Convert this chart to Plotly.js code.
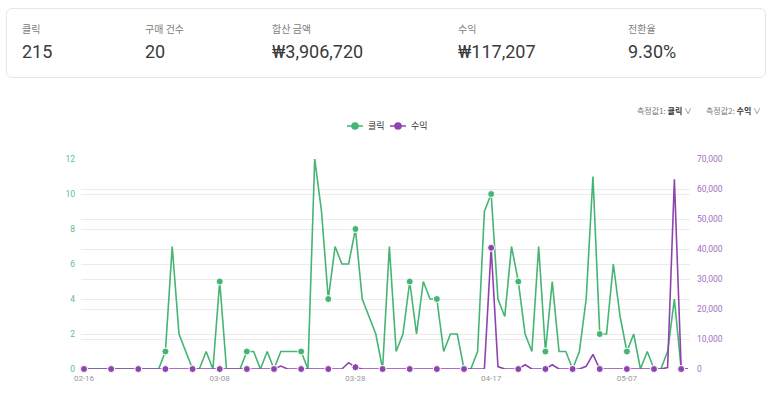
<!DOCTYPE html>
<html>
<head>
<meta charset="utf-8">
<script src="https://cdn.plot.ly/plotly-3.0.1.min.js"></script>
<style>
  html, body { margin: 0; padding: 0; background: #fff; }
  body { width: 773px; height: 399px; position: relative; overflow: hidden;
         font-family: Roboto, "Noto Sans CJK KR", sans-serif; }
  #card { position: absolute; left: 6px; top: 8px; width: 760px; height: 70px;
          border: 1px solid #e6e6e6; border-radius: 6px; box-sizing: border-box; }
  .kpi { position: absolute; top: 0; }
  .kpi .lab { position: absolute; top: 12px; white-space: nowrap; font-size: 10px; color: #808080;
              font-family: "Noto Sans CJK KR", sans-serif; }
  .kpi .val { position: absolute; top: 32px; white-space: nowrap; font-size: 18px; color: #3a3a3a;
              font-family: Roboto, sans-serif; }
  .ctrl { position: absolute; top: 105px; white-space: nowrap; font-size: 8px; color: #777;
          font-family: "Noto Sans CJK KR", sans-serif; }
  .ctrl b { color: #333; }
  #legend { position: absolute; left: 0; top: 0; width: 773px; height: 399px; pointer-events: none; }
  #chart { position: absolute; left: 0; top: 0; width: 773px; height: 399px; }
</style>
</head>
<body>
<div id="chart"></div>
<div id="card"></div>
<div id="ctrls"></div>
<svg id="legend" width="773" height="399"></svg>
<script>
// ---- data ----
const kpiLabels = ["클릭", "구매 건수", "합산 금액", "수익", "전환율"];
const kpiValues = ["215", "20", "₩3,906,720", "₩117,207", "9.30%"];

const dates = [
  "2023-02-16","2023-02-17","2023-02-18","2023-02-19","2023-02-20","2023-02-21","2023-02-22","2023-02-23","2023-02-24","2023-02-25",
  "2023-02-26","2023-02-27","2023-02-28","2023-03-01","2023-03-02","2023-03-03","2023-03-04","2023-03-05","2023-03-06","2023-03-07",
  "2023-03-08","2023-03-09","2023-03-10","2023-03-11","2023-03-12","2023-03-13","2023-03-14","2023-03-15","2023-03-16","2023-03-17",
  "2023-03-18","2023-03-19","2023-03-20","2023-03-21","2023-03-22","2023-03-23","2023-03-24","2023-03-25","2023-03-26","2023-03-27",
  "2023-03-28","2023-03-29","2023-03-30","2023-03-31","2023-04-01","2023-04-02","2023-04-03","2023-04-04","2023-04-05","2023-04-06",
  "2023-04-07","2023-04-08","2023-04-09","2023-04-10","2023-04-11","2023-04-12","2023-04-13","2023-04-14","2023-04-15","2023-04-16",
  "2023-04-17","2023-04-18","2023-04-19","2023-04-20","2023-04-21","2023-04-22","2023-04-23","2023-04-24","2023-04-25","2023-04-26",
  "2023-04-27","2023-04-28","2023-04-29","2023-04-30","2023-05-01","2023-05-02","2023-05-03","2023-05-04","2023-05-05","2023-05-06",
  "2023-05-07","2023-05-08","2023-05-09","2023-05-10","2023-05-11","2023-05-12","2023-05-13","2023-05-14","2023-05-15","2023-05-16"
];

const clicks = [
  0,0,0,0,0,0,0,0,0,0,
  0,0,1,7,2,1,0,0,1,0,
  5,0,0,0,1,1,0,1,0,1,
  1,1,1,0,12,9,4,7,6,6,
  8,4,3,2,0,7,1,2,5,2,
  5,4,4,1,2,2,0,0,1,9,
  10,4,3,7,5,2,1,7,1,5,
  1,1,0,1,4,11,2,2,6,3,
  1,2,0,1,0,0,1,4,0,0
];

const revenue = [
  0,0,0,0,0,0,0,0,0,0,
  0,0,0,0,0,0,0,0,0,0,
  0,0,0,0,0,0,0,0,0,1000,
  0,0,0,0,0,0,0,0,0,2100,
  600,0,0,0,0,0,0,0,0,0,
  0,0,0,0,0,0,0,0,0,0,
  40400,800,0,0,0,1400,0,0,0,1400,
  0,0,0,0,900,4900,0,0,0,0,
  0,0,0,0,0,0,500,63207,0,0
];

const tickDates = ["2023-02-16","2023-03-08","2023-03-28","2023-04-17","2023-05-07"];
const tickLabels = ["02-16","03-08","03-28","04-17","05-07"];
const leftTicks = [0,2,4,6,8,10,12];
const rightTicks = [0,10000,20000,30000,40000,50000,60000,70000];
const seriesNames = ["클릭", "수익"];
const measureLabels = ["측정값1:", "측정값2:"];

// ---- style ----
const green = "#45b574";
const purple = "#8e44ad";
const markerSizes = dates.map((d, i) => (i % 4 === 0 && i < 89) ? 7 : 0);

// KPI card
const card = document.getElementById("card");
const kpiX = [15, 138, 265, 451, 621];
kpiLabels.forEach((lab, i) => {
  const k = document.createElement("div");
  k.className = "kpi";
  k.style.left = kpiX[i] + "px";
  k.innerHTML = '<div class="lab">' + lab + '</div><div class="val">' + kpiValues[i] + '</div>';
  card.appendChild(k);
});

// measure controls
const ctrlX = [637, 706];
document.getElementById("ctrls").innerHTML = measureLabels.map((m, i) =>
  '<div class="ctrl" style="left:' + ctrlX[i] + 'px">' + m + ' <b>' + seriesNames[i] + '</b> ∨</div>'
).join("");

// legend
const svgNS = "http://www.w3.org/2000/svg";
const leg = document.getElementById("legend");
const legX = [347, 390];
const legColors = [green, purple];
seriesNames.forEach((n, i) => {
  const x0 = legX[i], y0 = 126;
  const ln = document.createElementNS(svgNS, "line");
  ln.setAttribute("x1", x0); ln.setAttribute("x2", x0 + 16);
  ln.setAttribute("y1", y0); ln.setAttribute("y2", y0);
  ln.setAttribute("stroke", legColors[i]); ln.setAttribute("stroke-width", "1.5");
  leg.appendChild(ln);
  const c = document.createElementNS(svgNS, "circle");
  c.setAttribute("cx", x0 + 8); c.setAttribute("cy", y0); c.setAttribute("r", "3.8");
  c.setAttribute("fill", legColors[i]);
  leg.appendChild(c);
  const t = document.createElementNS(svgNS, "text");
  t.setAttribute("x", x0 + 21); t.setAttribute("y", y0 + 3);
  t.setAttribute("font-size", "9"); t.setAttribute("fill", "#333");
  t.setAttribute("font-family", "'Noto Sans CJK KR', sans-serif");
  t.textContent = n;
  leg.appendChild(t);
});

const traces = [
  {
    x: dates, y: clicks, name: seriesNames[0], type: "scatter", mode: "lines+markers",
    line: { color: green, width: 1.6 },
    marker: { color: green, size: markerSizes, opacity: 1 },
    cliponaxis: false, yaxis: "y", showlegend: false
  },
  {
    x: dates, y: revenue, name: seriesNames[1], type: "scatter", mode: "lines+markers",
    line: { color: purple, width: 1.6 },
    marker: { color: purple, size: markerSizes, opacity: 1 },
    cliponaxis: false, yaxis: "y2", showlegend: false
  }
];

const layout = {
  width: 773, height: 399,
  margin: { l: 81, r: 83, t: 159, b: 30, pad: 0 },
  paper_bgcolor: "rgba(0,0,0,0)", plot_bgcolor: "rgba(0,0,0,0)",
  font: { family: "Roboto, 'Noto Sans CJK KR', sans-serif", size: 9, color: "#999" },
  showlegend: false,
  xaxis: {
    type: "date",
    range: ["2023-02-15 13:26", "2023-05-16 07:12"],
    tickvals: tickDates, ticktext: tickLabels,
    showgrid: false, zeroline: false, showline: false, ticks: "",
    tickfont: { size: 8, color: "#999" }, ticklabelstandoff: 3
  },
  yaxis: {
    range: [0, 12], tickvals: leftTicks,
    showgrid: true, gridcolor: "#ebebeb", gridwidth: 1,
    zeroline: false, showline: false, ticks: "",
    tickfont: { size: 8.5, color: "#5cc08a" }, ticklabelstandoff: 5
  },
  yaxis2: {
    overlaying: "y", side: "right",
    range: [0, 70000], tickvals: rightTicks, tickformat: ",d",
    showgrid: true, gridcolor: "#ebebeb", gridwidth: 1,
    zeroline: false, showline: false, ticks: "",
    tickfont: { size: 8.5, color: "#a070c0" }, ticklabelstandoff: 6
  }
};

Plotly.newPlot("chart", traces, layout, { displayModeBar: false, staticPlot: true });
</script>
</body>
</html>
